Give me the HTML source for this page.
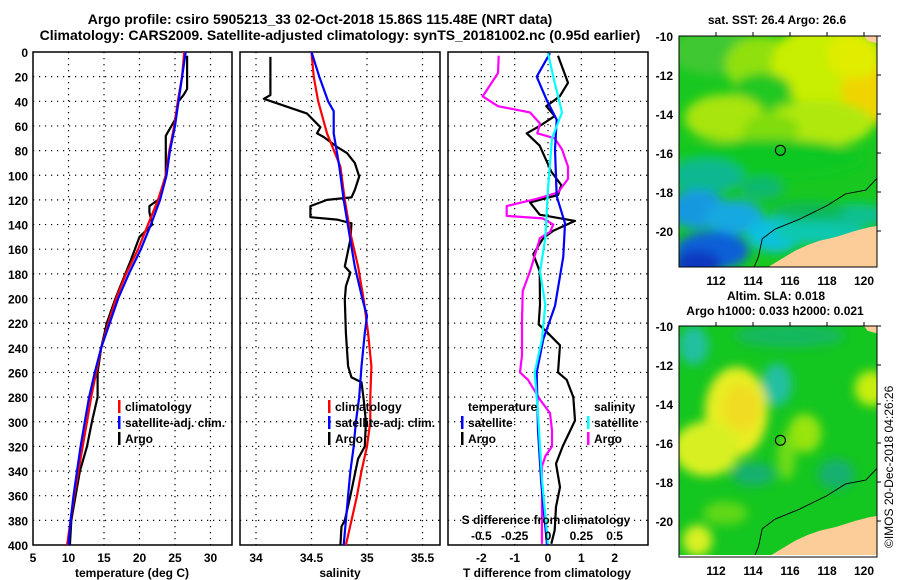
<!DOCTYPE html>
<html><head><meta charset="utf-8"><style>
html,body{margin:0;padding:0;background:#fff;}
svg{display:block;font-family:"Liberation Sans",sans-serif;font-weight:bold;}
text{fill:#000;}
</style></head><body>
<svg id="chart" width="900" height="580" viewBox="0 0 900 580" xmlns="http://www.w3.org/2000/svg">
<defs>
<filter id="blur1" x="-20%" y="-20%" width="140%" height="140%"><feGaussianBlur stdDeviation="5"/></filter>
<clipPath id="clipMap1"><rect x="679" y="36" width="198" height="231"/></clipPath>
<clipPath id="clipMap2"><rect x="679" y="326" width="198" height="229"/></clipPath>
</defs>
<text x="320" y="24" font-size="14" text-anchor="middle">Argo profile: csiro 5905213_33 02-Oct-2018 15.86S 115.48E (NRT data)</text>
<text x="340" y="40" font-size="14" text-anchor="middle">Climatology: CARS2009. Satellite-adjusted climatology: synTS_20181002.nc (0.95d earlier)</text>
<g id="panels"></g>
<g id="maps"></g>
<text transform="translate(893,548) rotate(-90)" font-size="12" font-weight="normal">©IMOS 20-Dec-2018 04:26:26</text>
</svg>
<script>
// ---------- data ----------
const depthTicks = [0,20,40,60,80,100,120,140,160,180,200,220,240,260,280,300,320,340,360,380,400];
const tempTicks = [5,10,15,20,25,30];
const salTicks = [34,34.5,35,35.5];
const salTickLabels = ["34","34.5","35","35.5"];
const dTTicks = [-2,-1,0,1,2];
const dSTickLabels = ["-0.5","-0.25","0","0.25","0.5"];
const dSTicks = [-0.5,-0.25,0,0.25,0.5];

const climTDepth = [0,20,40,60,80,100,120,140,160,180,200,220,240,260,280,300,320,340,360,380,400];
const climT = [26.3,26.0,25.4,24.9,24.2,23.7,22.6,21.2,19.8,18.1,16.7,15.6,14.6,13.9,13.2,12.6,12.0,11.4,10.8,10.3,9.8];
const satT = [26.5,26.0,25.5,25.0,24.3,23.8,22.9,21.6,20.2,18.5,17.0,15.8,14.6,13.7,12.9,12.3,11.7,11.2,10.7,10.3,10.0];
const argoTDepth = [3,30,35,40,55,65,68,100,115,120,125,130,140,150,170,200,220,240,260,280,300,320,340,360,380,400];
const argoT = [26.7,26.7,26.2,25.5,25.0,24.0,23.7,23.7,23.0,22.6,21.4,21.4,21.8,20.0,18.7,16.6,15.4,14.6,14.1,14.1,13.3,12.6,11.6,11.0,10.4,10.2];

const climSDepth = [0,20,40,66,93,120,147,174,201,228,255,280,300,320,340,360,380,400];
const climS = [34.50,34.52,34.56,34.64,34.76,34.80,34.85,34.92,34.97,35.01,35.04,35.03,35.03,35.00,34.95,34.91,34.86,34.81];
const satSDepth = [0,20,40,48,66,93,120,147,174,201,214,228,255,280,300,320,340,360,380,400];
const satS = [34.50,34.57,34.65,34.70,34.70,34.75,34.79,34.84,34.89,34.96,35.00,34.98,34.95,34.93,34.90,34.88,34.85,34.83,34.81,34.79];
const argoSDepth = [4,35,38,50,61,66,69,77,82,90,101,112,118,120,125,134,136,139,152,174,179,190,201,228,255,264,268,282,300,320,330,360,380,385,400];
const argoS = [34.13,34.13,34.07,34.46,34.58,34.55,34.61,34.73,34.82,34.89,34.93,34.89,34.86,34.64,34.49,34.49,34.73,34.86,34.85,34.80,34.85,34.81,34.80,34.81,34.83,34.86,34.95,34.97,34.99,34.98,34.92,34.85,34.80,34.77,34.76];

const satdTDepth = [1,20,39,55,79,117,139,166,206,233,260,307,350,400];
const satdT = [0.06,-0.34,-0.04,0.26,0.21,0.26,0.51,0.46,0.21,-0.14,-0.34,-0.30,-0.20,-0.03];
const argodTDepth = [3,25,36,44,52,60,66,76,97,108,116,122,132,137,145,151,164,178,205,221,227,238,260,266,280,299,320,334,353,369,388,399];
const argodT = [0.30,0.60,0.35,-0.05,0.20,-0.25,-0.64,-0.25,0.10,0.40,0.30,-0.54,-0.25,0.81,0.16,-0.14,-0.44,-0.25,-0.24,-0.28,-0.04,0.36,0.30,0.56,0.76,0.81,0.44,0.24,0.36,0.24,0.20,0.10];
const satdSDepth = [1,25,49,70,111,151,178,205,233,260,293,347,399];
const satdS = [0,0.05,0.105,0.03,0,-0.02,-0.06,-0.02,-0.045,-0.10,-0.075,-0.045,0];
const argodSDepth = [3,17,36,44,49,58,66,70,79,93,103,114,119,125,133,135,140,146,151,178,194,219,246,260,266,282,293,307,320,328,336,374,399];
const argodS = [-0.37,-0.375,-0.49,-0.375,-0.135,-0.06,-0.08,0.05,0.105,0.15,0.15,0.075,-0.08,-0.31,-0.31,-0.04,0.04,0.015,-0.06,-0.135,-0.19,-0.195,-0.195,-0.21,-0.15,-0.06,0.015,0.03,0.03,-0.02,-0.045,-0.045,-0.045];

const latTicks = [-10,-12,-14,-16,-18,-20];
const lonTicks = [112,114,116,118,120];

// ---------- helpers ----------
const NS = "http://www.w3.org/2000/svg";
const svg = document.getElementById('chart');
const panelsG = document.getElementById('panels');
const mapsG = document.getElementById('maps');
function mk(tag, attrs, parent){ const e=document.createElementNS(NS,tag); for(const k in attrs) e.setAttribute(k,attrs[k]); (parent||svg).appendChild(e); return e; }
function txt(x,y,s,size,anchor,parent){ const e=mk('text',{x:x,y:y,'font-size':size,'text-anchor':anchor||'middle'},parent); e.textContent=s; return e; }

const TOP=52, BOT=545;
function yDepth(d){ return TOP + d*(BOT-TOP)/400; }
const xT = v => 33 + (v-5)*7.1;
const xS = v => 256 + (v-34)*111;
const xdT = v => 548 + v*33.33;
const xdS = v => 548 + v*133.3;

function drawPanel(x0, x1, name, gridX, scale){
  const g = mk('g',{},panelsG);
  
  
  depthTicks.forEach(d=>{ if(d>0&&d<400){ const l=mk('line',{x1:x0,x2:x1,y1:yDepth(d),y2:yDepth(d),stroke:'#000','stroke-width':1.2,'stroke-dasharray':'1.2,4.8'},g);   }});
  gridX.forEach(v=>{ const x=scale(v); if(x>x0+1&&x<x1-1){ const l=mk('line',{x1:x,x2:x,y1:TOP,y2:BOT,stroke:'#000','stroke-width':1.2,'stroke-dasharray':'1.2,4.8'},g);   }});
  const r = mk('rect',{x:x0,y:TOP,width:x1-x0,height:BOT-TOP,fill:'none',stroke:'#000','stroke-width':1.5},g);
  
  
  return g;
}
function line(g, xs, ds, scale, color, w, name){
  const pts = xs.map((v,i)=> scale(v).toFixed(1)+','+yDepth(ds[i]).toFixed(1)).join(' ');
  const p = mk('polyline',{points:pts,fill:'none',stroke:color,'stroke-width':w,'stroke-linejoin':'round'},g);
  
  
  return p;
}
function legend(g, x, y, color, label){
  const b = mk('rect',{x:x,y:y-11,width:2.5,height:13,fill:color},g);
  
  
  const t = txt(x+7,y,label,12,'start',g);
  
  
}

// ---------- panel 1: temperature ----------
const p1 = drawPanel(33,232,'temperature-panel',tempTicks,xT);
depthTicks.forEach(d=>{ const t=txt(28,yDepth(d)+5,String(d),12,'end',p1);   });
tempTicks.forEach(v=>{ const t=txt(xT(v),562,String(v),12,'middle',p1);   });
const t1=txt(132,577,'temperature (deg C)',12,'middle',p1);


line(p1, argoT, argoTDepth, xT, '#000', 2.2, 'argo-temperature-line');
line(p1, climT, climTDepth, xT, '#ff0000', 2.2, 'climatology-temperature-line');
line(p1, satT, climTDepth, xT, '#0000ff', 2.2, 'satellite-temperature-line');
legend(p1,118,411,'#ff0000','climatology');
legend(p1,118,427,'#0000ff','satellite-adj. clim.');
legend(p1,118,443,'#000','Argo');

// ---------- panel 2: salinity ----------
const p2 = drawPanel(240,440,'salinity-panel',salTicks,xS);
salTicks.forEach((v,i)=>{ const t=txt(xS(v),562,salTickLabels[i],12,'middle',p2);   });
const t2=txt(340,577,'salinity',12,'middle',p2);


line(p2, argoS, argoSDepth, xS, '#000', 2.2, 'argo-salinity-line');
line(p2, climS, climSDepth, xS, '#ff0000', 2.2, 'climatology-salinity-line');
line(p2, satS, satSDepth, xS, '#0000ff', 2.2, 'satellite-salinity-line');
legend(p2,328,411,'#ff0000','climatology');
legend(p2,328,427,'#0000ff','satellite-adj. clim.');
legend(p2,328,443,'#000','Argo');

// ---------- panel 3: differences ----------
const p3 = drawPanel(448,648,'difference-panel',dTTicks,xdT);
dTTicks.forEach(v=>{ const t=txt(xdT(v),562,String(v),12,'middle',p3);   });
const t3=txt(547,577,'T difference from climatology',12,'middle',p3);


line(p3, argodT, argodTDepth, xdT, '#000', 2.2, 'argo-t-difference-line');
line(p3, argodS, argodSDepth, xdS, '#ff00ff', 2.2, 'argo-s-difference-line');
line(p3, satdT, satdTDepth, xdT, '#0000ff', 2.2, 'satellite-t-difference-line');
line(p3, satdS, satdSDepth, xdS, '#00ffff', 2.2, 'satellite-s-difference-line');
const t4=txt(546,524,'S difference from climatology',12,'middle',p3);


dSTicks.forEach((v,i)=>{ const t=txt(xdS(v),540,dSTickLabels[i],12,'middle',p3);   });
const lt=txt(468,411,'temperature',12,'start',p3);  
legend(p3,461,427,'#0000ff','satellite');
legend(p3,461,443,'#000','Argo');
const ls=txt(594,411,'salinity',12,'start',p3);  
legend(p3,587,427,'#00ffff','satellite');
legend(p3,587,443,'#ff00ff','Argo');

// ---------- maps ----------
const lonX = lon => 716 + (lon-112)*18.5;
function drawMap(top, clipId, name, blobs, base){
  const g = mk('g',{},mapsG);
  
  
  const latY = lat => top + (-10-lat)*19.5;
  const cg = mk('g',{'clip-path':'url(#'+clipId+')'},g);
  mk('rect',{x:679,y:top,width:198,height:231,fill:base},cg);
  const bg = mk('g',{filter:'url(#blur1)'},cg);
  blobs.forEach(b=>{ mk('ellipse',{cx:lonX(b[0]),cy:latY(b[1]),rx:b[2]*18.5,ry:b[3]*19.5,fill:b[4]},bg); });
  const land = [[114.7,-22.5],[114.9,-21.8],[115.6,-21.4],[116.3,-21.0],[117,-20.7],[117.6,-20.5],[118.5,-20.3],[119.5,-20.0],[120.3,-19.8],[121,-19.7],[121,-22.5]];
  const lp = mk('polygon',{points:land.map(p=>lonX(p[0])+','+latY(p[1])).join(' '),fill:'#fccc99'},cg);
   
  const land2 = [[120.0,-10],[120.2,-10.25],[120.6,-10.35],[121,-10.3],[121,-9.9]];
  mk('polygon',{points:land2.map(p=>lonX(p[0])+','+latY(p[1])).join(' '),fill:'#fccc99'},cg);
  const iso = [[114.0,-22.0],[114.3,-21.3],[114.5,-20.4],[115.2,-19.9],[116.5,-19.4],[118,-18.7],[119,-18.1],[120.1,-17.9],[120.8,-17.2]];
  const ip = mk('polyline',{points:iso.map(p=>lonX(p[0])+','+latY(p[1])).join(' '),fill:'none',stroke:'#000','stroke-width':0.9},cg);
   
  const c = mk('circle',{cx:lonX(115.48),cy:latY(-15.86),r:5,fill:'none',stroke:'#000','stroke-width':1.1},g);
   
  const fr = mk('rect',{x:679,y:top,width:198,height:231,fill:'none',stroke:'#000','stroke-width':1},g);
   
  latTicks.forEach(l=>{ const t=txt(673,latY(l)+5,String(l),12,'end',g);  
    mk('line',{x1:877,x2:881,y1:latY(l),y2:latY(l),stroke:'#000'},g); });
  lonTicks.forEach(l=>{ const t=txt(lonX(l),top+249,String(l),12,'middle',g);  
    mk('line',{x1:lonX(l),x2:lonX(l),y1:top,y2:top-4,stroke:'#000'},g); });
  return g;
}
const m1 = drawMap(36,'clipMap1','sst-map',[
  [112,-10.8,2.5,1.2,'#40c830'],[114.5,-11.5,2,1.5,'#90e010'],[118,-11.5,3,2.2,'#c8ee00'],[120.2,-12.8,1.4,1.8,'#f0d400'],[119.5,-11,1.5,1.2,'#e0ec00'],
  [114.5,-12.8,1.6,0.9,'#20c820'],[117.5,-14.5,3,1.2,'#b0e808'],[112.5,-14.2,2.2,1.2,'#a8e410'],[115,-14.8,1.5,0.8,'#80dc10'],
  [115,-16.3,5,1,'#10c820'],
  [111.5,-17.2,2,0.9,'#10b890'],[114.5,-17.8,1.2,0.6,'#10b870'],[111,-18.9,1.6,1,'#1898e0'],[113,-19.3,1.6,0.9,'#18a8e0'],[115.2,-20.2,1.5,0.9,'#10c0e0'],
  [111.8,-21,2,1,'#1060d8'],[111,-21.7,1.3,0.7,'#0838c0'],
  [117.5,-20,2.5,0.7,'#10c8b0'],[119.5,-19.2,2,0.6,'#10c090'],[117,-19,2,0.5,'#10b858']
],'#18c820');
const m2 = drawMap(326,'clipMap2','sla-map',[
  [110.8,-11,0.8,1,'#20c0a0'],[115.3,-13,0.8,1.1,'#20c0a0'],[118.5,-17.6,1,0.8,'#18b070'],[114,-17.6,1.2,0.6,'#18b070'],[116,-10.5,3,0.6,'#18b860'],
  [113.1,-14.4,1.7,2.3,'#e8ee20'],[111.5,-16.3,1.8,1.4,'#d8f020'],[113.4,-14.2,1.0,1.2,'#f0dc20'],[111,-21,0.8,0.8,'#d8f020'],
  [116.8,-15.5,0.9,1,'#98e410'],[120.4,-13.2,0.9,0.9,'#c8ee10'],[112.5,-19.6,1.2,0.6,'#60d818'],[115.8,-16.7,0.5,1.2,'#70dc18']
],'#14c620');
const mt1=txt(777,24,'sat. SST: 26.4 Argo: 26.6',12,'middle',m1);  
const mt2=txt(776,300,'Altim. SLA: 0.018',12,'middle',m2);  
const mt3=txt(775,315,'Argo h1000: 0.033 h2000: 0.021',12,'middle',m2);  
</script>
</body></html>
